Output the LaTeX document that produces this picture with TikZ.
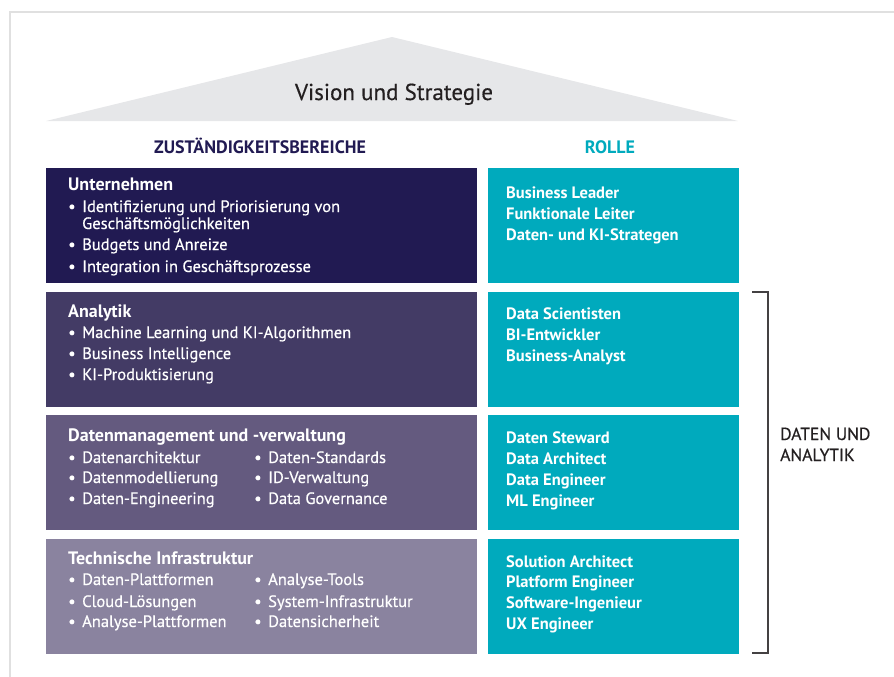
\documentclass[tikz,border=0pt]{standalone}
\usepackage{fontspec}
\setmainfont{PT Sans}
% slightly heavier cut for running text
\newfontfamily\medfont[FakeBold=0.45]{PT Sans}
\definecolor{navyA}{HTML}{211A52}
\definecolor{navyB}{HTML}{433B65}
\definecolor{navyC}{HTML}{645A7F}
\definecolor{navyD}{HTML}{8A839F}
\definecolor{teal}{HTML}{00AABD}
\definecolor{roofgray}{HTML}{E6E7E9}
\definecolor{framegray}{HTML}{E0E0E0}
\definecolor{inkdark}{HTML}{231F20}
\newcommand{\bul}[1]{\makebox[14pt][l]{\textbullet}#1}
\begin{document}
\begin{tikzpicture}[x=1pt,y=-1pt,
  panel/.style={anchor=north west, inner sep=0, minimum height=115pt},
  areabox/.style={panel, minimum width=431pt},
  rolebox/.style={panel, minimum width=251pt, fill=teal},
  txt/.style={anchor=base west, inner sep=0, text=white, font=\medfont\fontsize{16.5}{20}\selectfont},
  ttl/.style={txt, font=\fontsize{18}{20}\selectfont\bfseries},
  role/.style={txt, font=\fontsize{16.5}{20}\selectfont\bfseries},
  head/.style={anchor=base, inner sep=0, font=\fontsize{18}{20}\selectfont\bfseries}]
\useasboundingbox (0,0) rectangle (894,677);
% outer frame
\draw[framegray, line width=2pt] (10,677) -- (10,12) -- (894,12);
% roof
\fill[roofgray] (46,121) -- (392,37) -- (738,121) -- cycle;
\node[anchor=base, inner sep=0, text=inkdark, font=\medfont\fontsize{23}{26}\selectfont] (vision) at (394,100) {Vision und Strategie};
% column headers
\node[head, text=navyA] (hAreas) at (260,153) {ZUSTÄNDIGKEITSBEREICHE};
\node[head, text=teal] (hRole) at (610,153) {ROLLE};
% areas of responsibility
\node[areabox, fill=navyA] (bU) at (46,168) {};
\node[areabox, fill=navyB] (bA) at (46,292) {};
\node[areabox, fill=navyC] (bD) at (46,415) {};
\node[areabox, fill=navyD] (bT) at (46,539) {};
% roles
\node[rolebox] (rU) at (488,168) {};
\node[rolebox] (rA) at (488,292) {};
\node[rolebox] (rD) at (488,415) {};
\node[rolebox] (rT) at (488,539) {};
% Unternehmen
\node[ttl] (u0) at (68,190) {Unternehmen};
\node[txt] (u1) at (68,212) {\bul{Identifizierung und Priorisierung von}};
\node[txt] (u2) at (82,229) {Geschäftsmöglichkeiten};
\node[txt] (u3) at (68,250) {\bul{Budgets und Anreize}};
\node[txt] (u4) at (68,272) {\bul{Integration in Geschäftsprozesse}};
% Analytik
\node[ttl] (a0) at (68,317) {Analytik};
\node[txt] (a1) at (68,338) {\bul{Machine Learning und KI-Algorithmen}};
\node[txt] (a2) at (68,359) {\bul{Business Intelligence}};
\node[txt] (a3) at (68,380) {\bul{KI-Produktisierung}};
% Datenmanagement
\node[ttl] (d0) at (68,441) {Datenmanagement und -verwaltung};
\node[txt] (d1) at (68,463) {\bul{Datenarchitektur}};
\node[txt] (d2) at (68,483) {\bul{Datenmodellierung}};
\node[txt] (d3) at (68,504) {\bul{Daten-Engineering}};
\node[txt] (d4) at (254,463) {\bul{Daten-Standards}};
\node[txt] (d5) at (254,483) {\bul{ID-Verwaltung}};
\node[txt] (d6) at (254,504) {\bul{Data Governance}};
% Technische Infrastruktur
\node[ttl] (t0) at (68,564) {Technische Infrastruktur};
\node[txt] (t1) at (68,585) {\bul{Daten-Plattformen}};
\node[txt] (t2) at (68,607) {\bul{Cloud-Lösungen}};
\node[txt] (t3) at (68,627) {\bul{Analyse-Plattformen}};
\node[txt] (t4) at (254,585) {\bul{Analyse-Tools}};
\node[txt] (t5) at (254,607) {\bul{System-Infrastruktur}};
\node[txt] (t6) at (254,627) {\bul{Datensicherheit}};
% role lists
\node[role] (ru1) at (506,198) {Business Leader};
\node[role] (ru2) at (506,219) {Funktionale Leiter};
\node[role] (ru3) at (506,240) {Daten- und KI-Strategen};
\node[role] (ra1) at (506,319) {Data Scientisten};
\node[role] (ra2) at (506,340) {BI-Entwickler};
\node[role] (ra3) at (506,361) {Business-Analyst};
\node[role] (rd1) at (506,443) {Daten Steward};
\node[role] (rd2) at (506,464) {Data Architect};
\node[role] (rd3) at (506,485) {Data Engineer};
\node[role] (rd4) at (506,506) {ML Engineer};
\node[role] (rt1) at (506,567) {Solution Architect};
\node[role] (rt2) at (506,587) {Platform Engineer};
\node[role] (rt3) at (506,608) {Software-Ingenieur};
\node[role] (rt4) at (506,629) {UX Engineer};
% bracket grouping the data and analytics layers
\coordinate (brTop) at (752,292);
\coordinate (brBot) at (752,653);
\draw[inkdark!85, line width=1.2pt] (brTop) -- ++(16,0) |- (brBot);
\node[anchor=base west, inner sep=0, align=left, text=inkdark, font=\medfont\fontsize{17.5}{21}\selectfont] (daLabel) at (780,461) {DATEN UND\\ANALYTIK};
\end{tikzpicture}
\end{document}
